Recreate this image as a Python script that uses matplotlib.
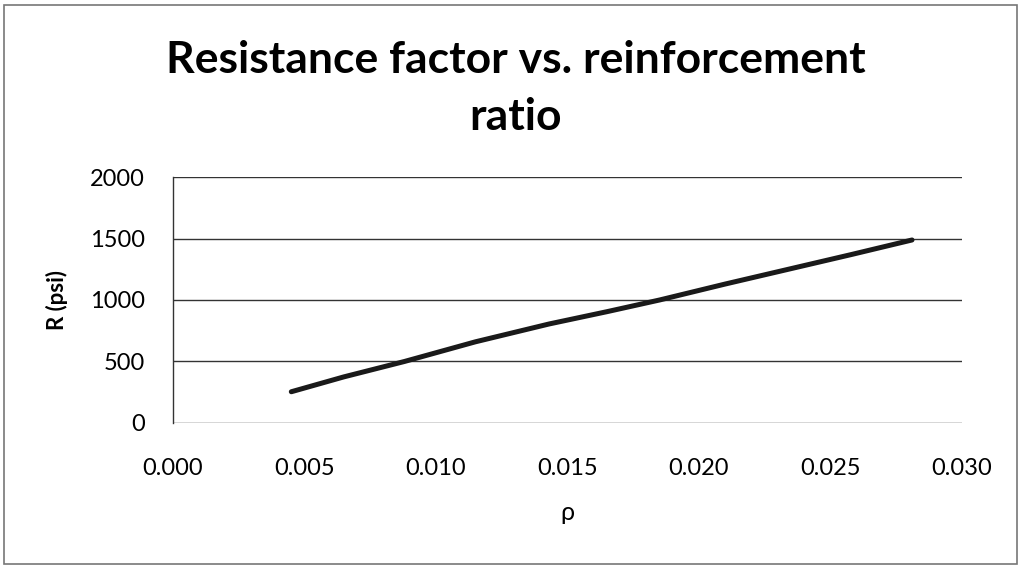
import matplotlib
matplotlib.use("Agg")
import matplotlib.pyplot as plt
from matplotlib.patches import Rectangle

# data
rho = [0.0045, 0.0065, 0.0088, 0.0115, 0.0143, 0.0165, 0.0185, 0.0210, 0.0235, 0.0258, 0.0281]
R_psi = [254, 375, 500, 660, 805, 905, 1000, 1130, 1255, 1370, 1488]
x_ticks = [0.000, 0.005, 0.010, 0.015, 0.020, 0.025, 0.030]
y_ticks = [0, 500, 1000, 1500, 2000]

plt.rcParams['font.family'] = ['Lato', 'DejaVu Sans']

fig = plt.figure(figsize=(10.21, 5.67), dpi=100)
ax = fig.add_axes([0.1694, 0.254, 0.7728, 0.4338])

ax.plot(rho, R_psi, color='#1a1a1a', linewidth=3.6, solid_capstyle='round')

ax.set_xlim(0, 0.030)
ax.set_ylim(0, 2000)
ax.set_xticks(x_ticks)
ax.set_xticklabels([f"{v:.3f}" for v in x_ticks])
ax.set_yticks(y_ticks)
ax.tick_params(axis='both', length=0, labelsize=17)
ax.tick_params(axis='y', pad=20)
ax.tick_params(axis='x', pad=25)

for v in y_ticks:
    ax.axhline(v, color='#333333', linewidth=1.0, zorder=0)
for side in ['top', 'right', 'bottom']:
    ax.spines[side].set_visible(False)
ax.spines['left'].set_color('#333333')
ax.spines['left'].set_linewidth(1.0)

ax.set_xlabel('ρ', fontsize=18, labelpad=16)
ax.set_ylabel('R (psi)', fontsize=16, fontweight='bold', labelpad=16)

fig.text(0.505, 0.844, 'Resistance factor vs. reinforcement\nratio', ha='center', va='center',
         fontsize=32, fontweight='bold', linespacing=1.5)

# outer chart border
fig.patches.append(Rectangle((0.004, 0.006), 0.992, 0.986, transform=fig.transFigure,
                             fill=False, edgecolor='#777777', linewidth=1.2))

fig.savefig('out.png', dpi=100)
